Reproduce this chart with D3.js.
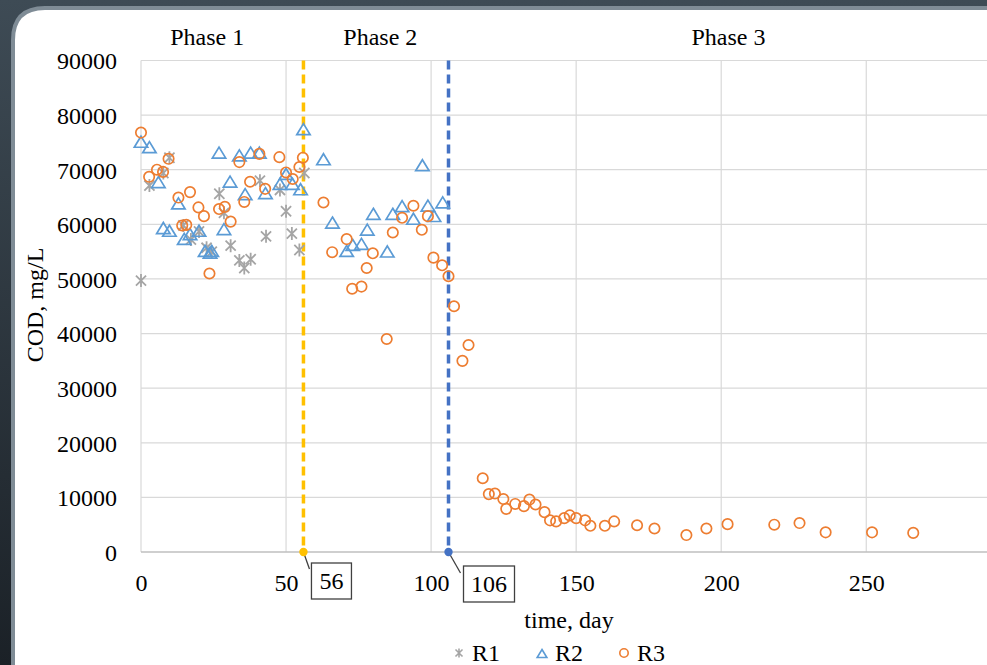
<!DOCTYPE html>
<html><head><meta charset="utf-8">
<script src="https://cdn.jsdelivr.net/npm/d3@7"></script>
<style>html,body{margin:0;padding:0;background:#2a333b;}svg{display:block;}</style>
</head><body>
<svg id="c" width="987" height="665"></svg>
<script>
// ---- data ----
const r1Days = [0,2.9,7.7,9.8,14.6,17.2,20,22.6,24.4,27,28.6,30.9,33.9,35.6,37.8,41,43.1,47.9,50,52,54.6,56.3];
const r1Cod  = [49700,67100,69400,72200,59800,57200,58700,55700,55000,65600,62100,56100,53400,52000,53600,68000,57800,66300,62400,58300,55300,69400];

const r2Days = [0,2.9,6,7.7,9.8,12.9,14.9,16.9,20,22.1,23.8,24.4,26.9,28.6,30.7,33.9,35.9,37.8,40.8,42.9,47.9,50,52.2,55,56,
                62.9,66,70.9,73,76,78,80.1,84.9,86.8,90,93.9,97,98.9,101,104];
const r2Cod  = [75000,74000,67600,59200,58700,63700,57200,58100,58700,55000,54700,55000,73000,59000,67700,72500,65400,73000,73000,65600,67300,69100,67300,66300,77300,
                71800,60200,55000,56100,56300,58900,61800,54900,61800,63200,60900,70700,63300,61400,63900];

const r3Days = [0,2.8,5.5,7.6,9.5,12.9,14.2,15.6,16.9,19.8,21.7,23.6,26.9,28.9,30.9,33.9,35.6,37.6,40.8,42.8,47.7,50,52.3,54.6,55.8,
                62.9,65.9,70.9,72.8,76,77.8,79.9,84.7,86.8,90,93.9,96.8,98.9,100.8,103.8,106,107.9,110.8,112.9,
                117.8,119.9,122,124.9,125.9,129,132,133.9,136,139.1,141,143.1,145.9,147.8,150,153.1,154.9,159.9,163.1,
                171,177,188,194.9,202.2,218.3,227,236,252,266.2];
const r3Cod  = [76800,68700,70000,69600,72000,64900,59800,59900,65900,63100,61500,51000,62800,63200,60500,71400,64100,67800,72900,66500,72300,69500,68300,70500,72200,
                64000,54900,57300,48200,48600,52000,54700,39000,58500,61200,63400,59000,61500,53900,52500,50500,45000,35000,37900,
                13500,10600,10700,9700,7900,8800,8400,9600,8700,7300,5800,5600,6200,6700,6200,5800,4800,4800,5600,
                4900,4300,3100,4300,5100,5000,5300,3600,3600,3500];

const xTicks = [0,50,100,150,200,250];
const yTicks = [0,10000,20000,30000,40000,50000,60000,70000,80000,90000];
const phaseBounds = [56,106];
const phaseLabels = ["Phase 1","Phase 2","Phase 3"];
const phaseLabelDays = [22.8,82.5,202.5];
const seriesNames = ["R1","R2","R3"];

// ---- layout ----
const svg = d3.select("#c");
const W = 987, H = 665;
const x = d3.scaleLinear().domain([0,300]).range([141,141+300*2.901]);
const y = d3.scaleLinear().domain([0,90000]).range([552,60.5]);
const FONT = "'Liberation Serif','Times New Roman',serif";
const FS = 24;
const cOrange = "#ed7d31", cBlue = "#5b9bd5", cGray = "#a5a5a5";

// background slide
const defs = svg.append("defs");
const g1 = defs.append("linearGradient").attr("id","bg").attr("x1",0).attr("y1",0).attr("x2",0).attr("y2",1);
g1.append("stop").attr("offset","0%").attr("stop-color","#3e4b55");
g1.append("stop").attr("offset","100%").attr("stop-color","#1b2127");
svg.append("rect").attr("width",W).attr("height",H).attr("fill","url(#bg)");
const rad = 32, L = 13, T = 8;
svg.append("path")
  .attr("d",`M${L},${H+10} L${L},${T+rad} Q${L},${T} ${L+rad},${T} L${W+10},${T} L${W+10},${H+10} Z`)
  .attr("fill","#ffffff").attr("stroke","#7f8c96").attr("stroke-width",4);

defs.append("clipPath").attr("id","clip").append("rect").attr("x",0).attr("y",0).attr("width",W).attr("height",H);
const plot = svg.append("g").attr("clip-path","url(#clip)");

// gridlines
plot.selectAll("line.hg").data(yTicks.filter(d=>d>0)).join("line")
  .attr("x1",x(0)).attr("x2",x(300)).attr("y1",d=>y(d)).attr("y2",d=>y(d))
  .attr("stroke","#d9d9d9").attr("stroke-width",1.2);
plot.selectAll("line.vg").data(xTicks.concat([300])).join("line")
  .attr("x1",d=>x(d)).attr("x2",d=>x(d)).attr("y1",y(0)).attr("y2",y(90000))
  .attr("stroke","#d9d9d9").attr("stroke-width",1.2);
plot.append("line").attr("x1",x(0)).attr("x2",x(300)).attr("y1",y(0)).attr("y2",y(0))
  .attr("stroke","#bfbfbf").attr("stroke-width",1.5);

// axes labels
const yAxis = svg.append("g").attr("transform",`translate(${x(0)-21},0)`)
  .call(d3.axisLeft(y).tickValues(yTicks).tickSize(0).tickFormat(d3.format("d")));
yAxis.select(".domain").remove();
yAxis.selectAll("text").attr("font-family",FONT).attr("font-size",FS).attr("fill","#000").attr("dy","0.35em");

const xAxis = svg.append("g").attr("transform",`translate(0,${y(0)+19})`)
  .call(d3.axisBottom(x).tickValues(xTicks).tickSize(0).tickFormat(d3.format("d")));
xAxis.select(".domain").remove();
xAxis.selectAll("text").attr("font-family",FONT).attr("font-size",FS).attr("fill","#000").attr("dy","0.71em");

// phase boundaries
const bColors = ["#ffc000","#4472c4"];
phaseBounds.forEach((b,i)=>{
  plot.append("line").attr("x1",x(b)).attr("x2",x(b)).attr("y1",y(90000)).attr("y2",y(0))
    .attr("stroke",bColors[i]).attr("stroke-width",3.5).attr("stroke-dasharray","9,5");
});

// series
const mk = (days, vals) => days.map((d,i)=>({d, v: vals[i]}));
const r1 = mk(r1Days,r1Cod), r2 = mk(r2Days,r2Cod), r3 = mk(r3Days,r3Cod);

function starPath(s){ const a=s*0.78; return `M0,${-s}L0,${s}M${-a},${-a}L${a},${a}M${-a},${a}L${a},${-a}`; }
function triPath(s){ return `M0,${-s}L${s*1.08},${s*0.78}L${-s*1.08},${s*0.78}Z`; }

plot.selectAll("path.r1").data(r1).join("path")
  .attr("transform",p=>`translate(${x(p.d)},${y(p.v)})`)
  .attr("d",starPath(6.5)).attr("stroke",cGray).attr("stroke-width",1.8).attr("fill","none");
plot.selectAll("path.r2").data(r2).join("path")
  .attr("transform",p=>`translate(${x(p.d)},${y(p.v)})`)
  .attr("d",triPath(6.2)).attr("stroke",cBlue).attr("stroke-width",1.7).attr("fill","none");
plot.selectAll("circle.r3").data(r3).join("circle")
  .attr("cx",p=>x(p.d)).attr("cy",p=>y(p.v)).attr("r",5.2)
  .attr("stroke",cOrange).attr("stroke-width",1.7).attr("fill","none");

// boundary dots and callouts
const boxW = [40,51];
const boxOff = [[8,11],[15,14]];
const leadEnd = [[6,17],[12,21]];
phaseBounds.forEach((b,i)=>{
  const cx = x(b), cy = y(0);
  svg.append("line").attr("x1",cx).attr("y1",cy).attr("x2",cx+leadEnd[i][0]).attr("y2",cy+leadEnd[i][1])
    .attr("stroke","#404040").attr("stroke-width",1.3);
  svg.append("circle").attr("cx",cx).attr("cy",cy).attr("r",4.2).attr("fill",bColors[i]);
  const bx = cx+boxOff[i][0], by = cy+boxOff[i][1];
  svg.append("rect").attr("x",bx).attr("y",by).attr("width",boxW[i]).attr("height",36)
    .attr("fill","#fff").attr("stroke","#404040").attr("stroke-width",1.3);
  svg.append("text").attr("x",bx+boxW[i]/2).attr("y",by+18).attr("dy","0.35em")
    .attr("text-anchor","middle").attr("font-family",FONT).attr("font-size",FS).text(String(b));
});

// phase labels
svg.selectAll("text.ph").data(phaseLabels).join("text")
  .attr("x",(d,i)=>x(phaseLabelDays[i])).attr("y",45)
  .attr("text-anchor","middle").attr("font-family",FONT).attr("font-size",FS).attr("fill","#000")
  .text(d=>d);

// axis titles
svg.append("text").attr("transform","translate(43,305) rotate(-90)")
  .attr("text-anchor","middle").attr("font-family",FONT).attr("font-size",FS).text("COD, mg/L");
svg.append("text").attr("x",569).attr("y",628)
  .attr("text-anchor","middle").attr("font-family",FONT).attr("font-size",FS).text("time, day");

// legend
const legX = [459,542,624];
const lg = svg.append("g");
seriesNames.forEach((n,i)=>{
  const mx = legX[i], my = 653;
  if(i===0) lg.append("path").attr("transform",`translate(${mx},${my})`).attr("d",starPath(4.5)).attr("stroke",cGray).attr("stroke-width",1.6).attr("fill","none");
  if(i===1) lg.append("path").attr("transform",`translate(${mx},${my+1})`).attr("d",triPath(4.5)).attr("stroke",cBlue).attr("stroke-width",1.6).attr("fill","none");
  if(i===2) lg.append("circle").attr("cx",mx).attr("cy",my).attr("r",4.2).attr("stroke",cOrange).attr("stroke-width",1.6).attr("fill","none");
  lg.append("text").attr("x",mx+13).attr("y",661).attr("font-family",FONT).attr("font-size",FS).text(n);
});
</script>
</body></html>
